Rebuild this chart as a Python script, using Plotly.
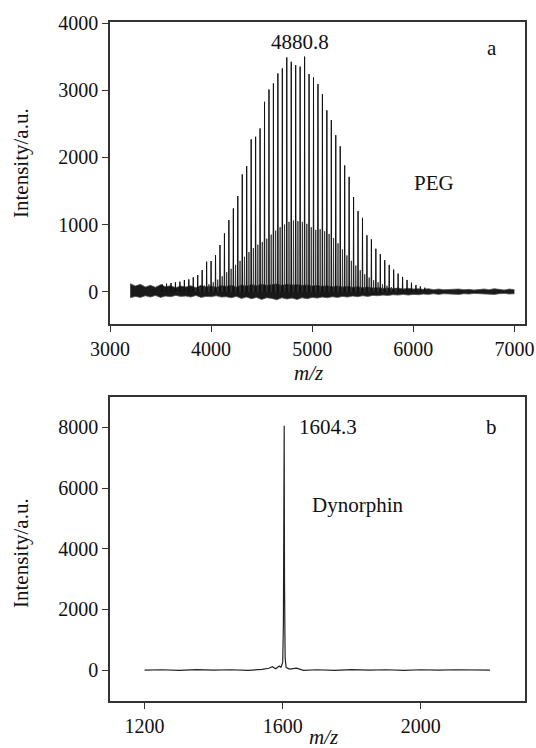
import plotly.graph_objects as go

# ---- panel a: PEG, main series (n-mer peaks, 44 Da apart) ----
peg_mz = [3515.3, 3559.3, 3603.4, 3647.4, 3691.5, 3735.5, 3779.6, 3823.6, 3867.7, 3911.7,
          3955.8, 3999.8, 4043.9, 4087.9, 4132.0, 4176.0, 4220.1, 4264.1, 4308.2, 4352.2,
          4396.3, 4440.3, 4484.4, 4528.4, 4572.5, 4616.5, 4660.6, 4704.6, 4748.7, 4792.7,
          4836.8, 4880.8, 4924.9, 4968.9, 5013.0, 5057.0, 5101.1, 5145.1, 5189.2, 5233.2,
          5277.3, 5321.3, 5365.4, 5409.4, 5453.5, 5497.5, 5541.6, 5585.6, 5629.7, 5673.7,
          5717.8, 5761.8, 5805.9, 5849.9, 5894.0, 5938.0, 5982.1, 6026.1, 6070.2, 6114.2]
peg_int = [110, 120, 130, 140, 150, 174, 184, 214, 248, 323,
           447, 457, 546, 695, 869, 1067, 1240, 1424, 1747, 1870,
           2268, 2307, 2431, 2827, 3011, 3100, 3250, 3324, 3488, 3423,
           3373, 3350, 3500, 3240, 3190, 3090, 2940, 2700, 2555, 2330,
           2165, 1880, 1710, 1410, 1200, 1100, 840, 780, 640, 560,
           470, 400, 330, 270, 220, 175, 135, 100, 80, 60]

# second (weaker) distribution sitting between the main peaks
peg2_mz = [3845.6, 3889.7, 3933.7, 3977.8, 4021.8, 4065.9, 4109.9, 4154.0, 4198.0, 4242.1,
           4286.1, 4330.2, 4374.2, 4418.3, 4462.3, 4506.4, 4550.4, 4594.5, 4638.5, 4682.6,
           4726.6, 4770.7, 4814.7, 4858.8, 4902.8, 4946.9, 4990.9, 5035.0, 5079.0, 5123.1,
           5167.1, 5211.2, 5255.2, 5299.3, 5343.3, 5387.4, 5431.4, 5475.5, 5519.5, 5563.6,
           5607.6, 5651.7, 5695.7, 5739.8, 5783.8, 5827.9]
peg2_int = [60, 70, 90, 110, 140, 180, 230, 290, 340, 400,
            460, 520, 590, 650, 700, 740, 790, 850, 910, 960,
            1000, 1040, 1060, 1050, 1040, 1010, 960, 920, 930, 900,
            860, 800, 720, 630, 540, 460, 390, 320, 260, 210,
            170, 140, 110, 90, 70, 55]

# baseline noise band (upper / lower edge) for panel a
noise_mz = [3200, 3250, 3300, 3350, 3400, 3450, 3500, 3550, 3600, 3650, 3700,
            3750, 3800, 3850, 3900, 3950, 4000, 4050, 4100,
            4150, 4200, 4250, 4300, 4350, 4400, 4450, 4500, 4550, 4600,
            4650, 4700, 4750, 4800, 4850, 4900, 4950, 5000, 5050, 5100,
            5150, 5200, 5250, 5300, 5350, 5400, 5450, 5500, 5550, 5600,
            5650, 5700, 5750, 5800, 5850, 5900, 5950, 6000, 6050, 6100,
            6150, 6200, 6250, 6300, 6350, 6400, 6450, 6500, 6550, 6600,
            6650, 6700, 6750, 6800, 6850, 6900, 6950, 7000]
noise_hi = [120, 85, 110, 70, 95, 65, 105, 75, 90, 60, 85,
            70, 90, 60, 95, 70, 85, 65, 90,
            80, 95, 70, 100, 85, 105, 90, 110, 95, 105,
            115, 95, 110, 100, 105, 95, 100, 85, 95, 80,
            90, 75, 85, 70, 80, 65, 75, 60, 70, 55,
            60, 50, 55, 45, 55, 40, 50, 40, 45, 35,
            45, 30, 40, 30, 35, 30, 40, 30, 35, 25,
            30, 40, 30, 45, 35, 25, 40, 30]
noise_lo = [-90, -70, -85, -60, -80, -55, -85, -65, -75, -55, -70,
            -65, -80, -55, -85, -70, -75, -60, -80,
            -75, -90, -70, -100, -80, -105, -85, -115, -90, -100,
            -120, -90, -110, -95, -115, -90, -105, -85, -95, -80,
            -90, -75, -85, -70, -80, -65, -75, -60, -70, -55,
            -60, -50, -55, -45, -50, -40, -50, -40, -45, -35,
            -40, -30, -40, -30, -35, -30, -40, -30, -35, -25,
            -30, -35, -30, -40, -30, -25, -35, -30]

# ---- panel b: Dynorphin ----
dyn_mz = [1200, 1250, 1300, 1350, 1400, 1450, 1500, 1540, 1560, 1570, 1580, 1590, 1595,
          1600, 1602, 1603.5, 1604.3, 1605.2, 1607, 1610, 1620, 1640, 1660, 1700, 1750,
          1800, 1850, 1900, 1950, 2000, 2050, 2100, 2150, 2200]
dyn_int = [0, 10, -10, 15, -5, 10, -10, 20, 60, 110, 40, 130, 90,
           250, 1500, 6000, 8050, 3000, 400, 80, 30, 60, -10, 10, -10,
           15, -5, 10, -10, 10, -5, 10, -5, 0]

FONT = "Liberation Serif"
INK = "#111111"
W, H = 536, 748


def px(x):
    return x / W


def py(y):
    return 1 - y / H


def spikes(mz, inten, half=3.0):
    # each peak drawn as a narrow triangle from the baseline
    xs, ys = [], []
    for m, h in zip(mz, inten):
        xs += [m - half, m, m + half, None]
        ys += [0, h, 0, None]
    return xs, ys


fig = go.Figure()

# noise band
fig.add_trace(go.Scatter(x=noise_mz, y=noise_lo, mode="lines", line=dict(color="#555555", width=0.8),
                         showlegend=False, hoverinfo="skip", xaxis="x", yaxis="y"))
fig.add_trace(go.Scatter(x=noise_mz, y=noise_hi, mode="lines", line=dict(color="#555555", width=0.8),
                         fill="tonexty", fillcolor="#1a1a1a", showlegend=False, hoverinfo="skip",
                         xaxis="x", yaxis="y"))

x2, y2 = spikes(peg2_mz, peg2_int)
fig.add_trace(go.Scatter(x=x2, y=y2, mode="lines", line=dict(color="#333333", width=0.9),
                         showlegend=False, xaxis="x", yaxis="y"))
x1, y1 = spikes(peg_mz, peg_int)
fig.add_trace(go.Scatter(x=x1, y=y1, mode="lines", line=dict(color=INK, width=1),
                         showlegend=False, xaxis="x", yaxis="y"))

fig.add_trace(go.Scatter(x=dyn_mz, y=dyn_int, mode="lines", line=dict(color="#222222", width=1.2),
                         showlegend=False, xaxis="x2", yaxis="y2"))

axis_style = dict(showline=True, linecolor="#333333", linewidth=1.5, mirror=True,
                  ticks="outside", ticklen=6, tickwidth=1.2, tickcolor="#333333",
                  showgrid=False, zeroline=False, automargin=False,
                  tickfont=dict(family=FONT, size=20, color=INK))

fig.update_layout(
    width=W, height=H,
    margin=dict(l=0, r=0, t=0, b=0),
    paper_bgcolor="white", plot_bgcolor="white",
    xaxis=dict(domain=[px(110), px(524.5)], range=[3000, 7100], tickvals=[3000, 4000, 5000, 6000, 7000],
               anchor="y", **axis_style),
    yaxis=dict(domain=[py(324.3), py(22)], range=[-485, 4015], tickvals=[0, 1000, 2000, 3000, 4000],
               anchor="x", **axis_style),
    xaxis2=dict(domain=[px(110), px(524.5)], range=[1100, 2300], tickvals=[1200, 1600, 2000],
                anchor="y2", **axis_style),
    yaxis2=dict(domain=[py(701), py(397.3)], range=[-1020, 8990], tickvals=[0, 2000, 4000, 6000, 8000],
                anchor="x2", **axis_style),
)

txt = dict(family=FONT, size=21, color=INK)
ann = [
    dict(text="4880.8", x=4880.8, y=3716, xref="x", yref="y", showarrow=False, font=txt),
    dict(text="a", x=px(492), y=py(48), xref="paper", yref="paper", showarrow=False, font=txt),
    dict(text="PEG", x=px(434), y=py(183), xref="paper", yref="paper", showarrow=False, font=txt),
    dict(text="1604.3", x=1604.3, y=8000, xref="x2", yref="y2", xanchor="left", xshift=13,
         showarrow=False, font=txt),
    dict(text="b", x=px(491), y=py(427), xref="paper", yref="paper", showarrow=False, font=txt),
    dict(text="Dynorphin", x=px(357), y=py(505), xref="paper", yref="paper", showarrow=False, font=txt),
    dict(text="Intensity/a.u.", x=px(21), y=py(163), xref="paper", yref="paper",
         textangle=-90, showarrow=False, font=txt),
    dict(text="Intensity/a.u.", x=px(21), y=py(553), xref="paper", yref="paper",
         textangle=-90, showarrow=False, font=txt),
    dict(text="<i>m/z</i>", x=px(308), y=py(373), xref="paper", yref="paper", showarrow=False, font=txt),
    dict(text="<i>m/z</i>", x=px(323), y=py(737), xref="paper", yref="paper", showarrow=False, font=txt),
]
for a in ann:
    a.setdefault("xanchor", "center")
    a.setdefault("yanchor", "middle")
fig.update_layout(annotations=ann)

# drop the default page margin so the figure sits at the window's corner
fig.write_html("out.html", config={"displayModeBar": False},
               post_script="document.body.style.margin='0';document.body.style.overflow='hidden';")
